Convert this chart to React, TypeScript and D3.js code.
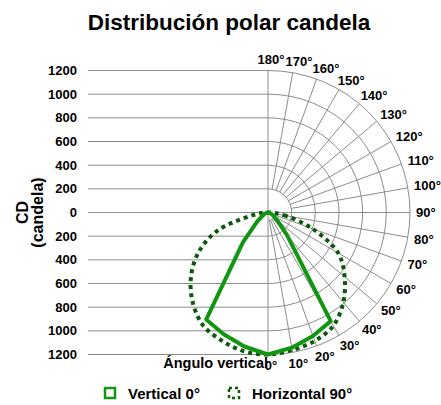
import React from "react";
import * as d3 from "d3";

// polar candela data, angle 0 = straight down (nadir)
const angleDeg = [0, 10, 20, 30, 40, 50, 60, 70, 80, 90];
const verticalRight = [1200, 1160, 1110, 1060, 250, 100, 50, 25, 10, 0];
const verticalLeft = [1200, 1150, 1095, 1045, 330, 120, 50, 25, 10, 0];
const horizontalRight = [1200, 1180, 1155, 1105, 990, 845, 685, 400, 140, 0];
const horizontalLeft = [1200, 1190, 1150, 1100, 990, 850, 680, 460, 130, 0];

const cdTicks = [1200, 1000, 800, 600, 400, 200, 0];
const ringValues = [200, 400, 600, 800, 1000, 1200];
const labelAngles = [180, 170, 160, 150, 140, 130, 120, 110, 100, 90, 80, 70, 60, 50, 40, 30, 20, 10, 0];

const W = 441;
const H = 405;
const cx = 268;
const cy = 212.5;
const leftEdge = 88;
const FONT = "'Liberation Sans', Arial, Helvetica, sans-serif";
const GRID = "#8c8c8c";
const SOLID = "#129612";
const DOTTED = "#0b5a0b";

const r = d3.scaleLinear().domain([0, 1200]).range([0, 142]);
const rad = (deg: number) => (deg * Math.PI) / 180;

// point at angle theta (0 = down, 90 = right, 180 = up)
const pt = (theta: number, v: number): [number, number] => [
  cx + r(v) * Math.sin(rad(theta)),
  cy + r(v) * Math.cos(rad(theta)),
];

function radialPoints(right: number[], left: number[]) {
  const pts: [number, number][] = [];
  for (let i = angleDeg.length - 1; i >= 0; i--) pts.push([Math.PI - rad(angleDeg[i]), r(right[i])]);
  // left side stops before 90 so the center point appears only once
  for (let i = 1; i < angleDeg.length - 1; i++) pts.push([Math.PI + rad(angleDeg[i]), r(left[i])]);
  return pts;
}

const radial = (curve: d3.CurveFactory) =>
  d3
    .lineRadial<[number, number]>()
    .angle((d) => d[0])
    .radius((d) => d[1])
    .curve(curve);

export default function App() {
  const spokes = d3.range(10, 180, 10);
  const arc = (v: number) =>
    `M${cx},${cy - r(v)} A${r(v)},${r(v)} 0 0 1 ${cx},${cy + r(v)}`;
  const labelW = (s: string) => 13 * (0.556 * (s.length - 1) + 0.4);

  const solidPath = radial(d3.curveLinearClosed)(radialPoints(verticalRight, verticalLeft)) || "";
  const dottedPath =
    radial(d3.curveCatmullRomClosed.alpha(0.5))(radialPoints(horizontalRight, horizontalLeft)) || "";

  return (
    <svg
      width={W}
      height={H}
      style={{ position: "absolute", left: 0, top: 0, background: "#fff" }}
      fontFamily={FONT}
      fontWeight="bold"
    >
      <text x={229} y={30} textAnchor="middle" fontSize={22.5}>
        Distribución polar candela
      </text>

      {/* left rectangular grid */}
      {cdTicks.flatMap((v) => [cy - r(v), cy + r(v)]).map((y, i) => (
        <line key={"h" + i} x1={leftEdge} x2={cx} y1={y} y2={y} stroke={GRID} strokeWidth={1} />
      ))}

      {/* right polar grid */}
      {ringValues.map((v) => (
        <path key={"a" + v} d={arc(v)} fill="none" stroke={GRID} strokeWidth={1} />
      ))}
      {spokes.map((a) => {
        const [x0, y0] = pt(a, a > 90 ? 200 : 60);
        const [x1, y1] = pt(a, 1200);
        return <line key={"s" + a} x1={x0} y1={y0} x2={x1} y2={y1} stroke={GRID} strokeWidth={1} />;
      })}
      <line x1={cx} x2={cx} y1={cy - r(1200)} y2={cy + r(1200)} stroke={GRID} strokeWidth={1} />

      {/* cd tick labels */}
      {cdTicks
        .flatMap((v) => (v === 0 ? [{ v, y: cy }] : [{ v, y: cy - r(v) }, { v, y: cy + r(v) }]))
        .map((d, i) => (
          <text key={"t" + i} x={77} y={d.y} dy="0.35em" textAnchor="end" fontSize={13}>
            {d.v}
          </text>
        ))}

      {/* angle labels */}
      {labelAngles.map((a) => {
        const s = `${a}°`;
        const w = labelW(s);
        const ux = Math.sin(rad(a));
        const uy = Math.cos(rad(a));
        const x = cx + 148 * ux + (ux * w) / 2 + 3 * Math.abs(uy);
        const y = cy + 148 * uy + uy * 5;
        return (
          <text key={"l" + a} x={x} y={y} dy="0.35em" textAnchor="middle" fontSize={13}>
            {s}
          </text>
        );
      })}

      <text x={268} y={368} textAnchor="end" fontSize={14.5}>
        Ángulo vertical
      </text>

      <g transform={`translate(22,${cy}) rotate(-90)`}>
        <text x={0} y={0} dy="0.35em" textAnchor="middle" fontSize={16}>
          CD
        </text>
      </g>
      <g transform={`translate(37,${cy}) rotate(-90)`}>
        <text x={0} y={0} dy="0.35em" textAnchor="middle" fontSize={16}>
          (candela)
        </text>
      </g>

      {/* series */}
      <path
        d={dottedPath}
        transform={`translate(${cx},${cy})`}
        fill="none"
        stroke={DOTTED}
        strokeWidth={4}
        strokeDasharray="4,4"
      />
      <path
        d={solidPath}
        transform={`translate(${cx},${cy})`}
        fill="none"
        stroke={SOLID}
        strokeWidth={4}
        strokeLinejoin="round"
      />

      {/* legend */}
      <rect x={105} y={388} width={10} height={10} fill="none" stroke={SOLID} strokeWidth={2.5} />
      <text x={128} y={398.5} fontSize={15}>
        Vertical 0°
      </text>
      <rect
        x={229}
        y={388}
        width={10}
        height={10}
        fill="none"
        stroke={DOTTED}
        strokeWidth={2.5}
        strokeDasharray="3,3"
      />
      <text x={252} y={398.5} fontSize={15}>
        Horizontal 90°
      </text>
    </svg>
  );
}
